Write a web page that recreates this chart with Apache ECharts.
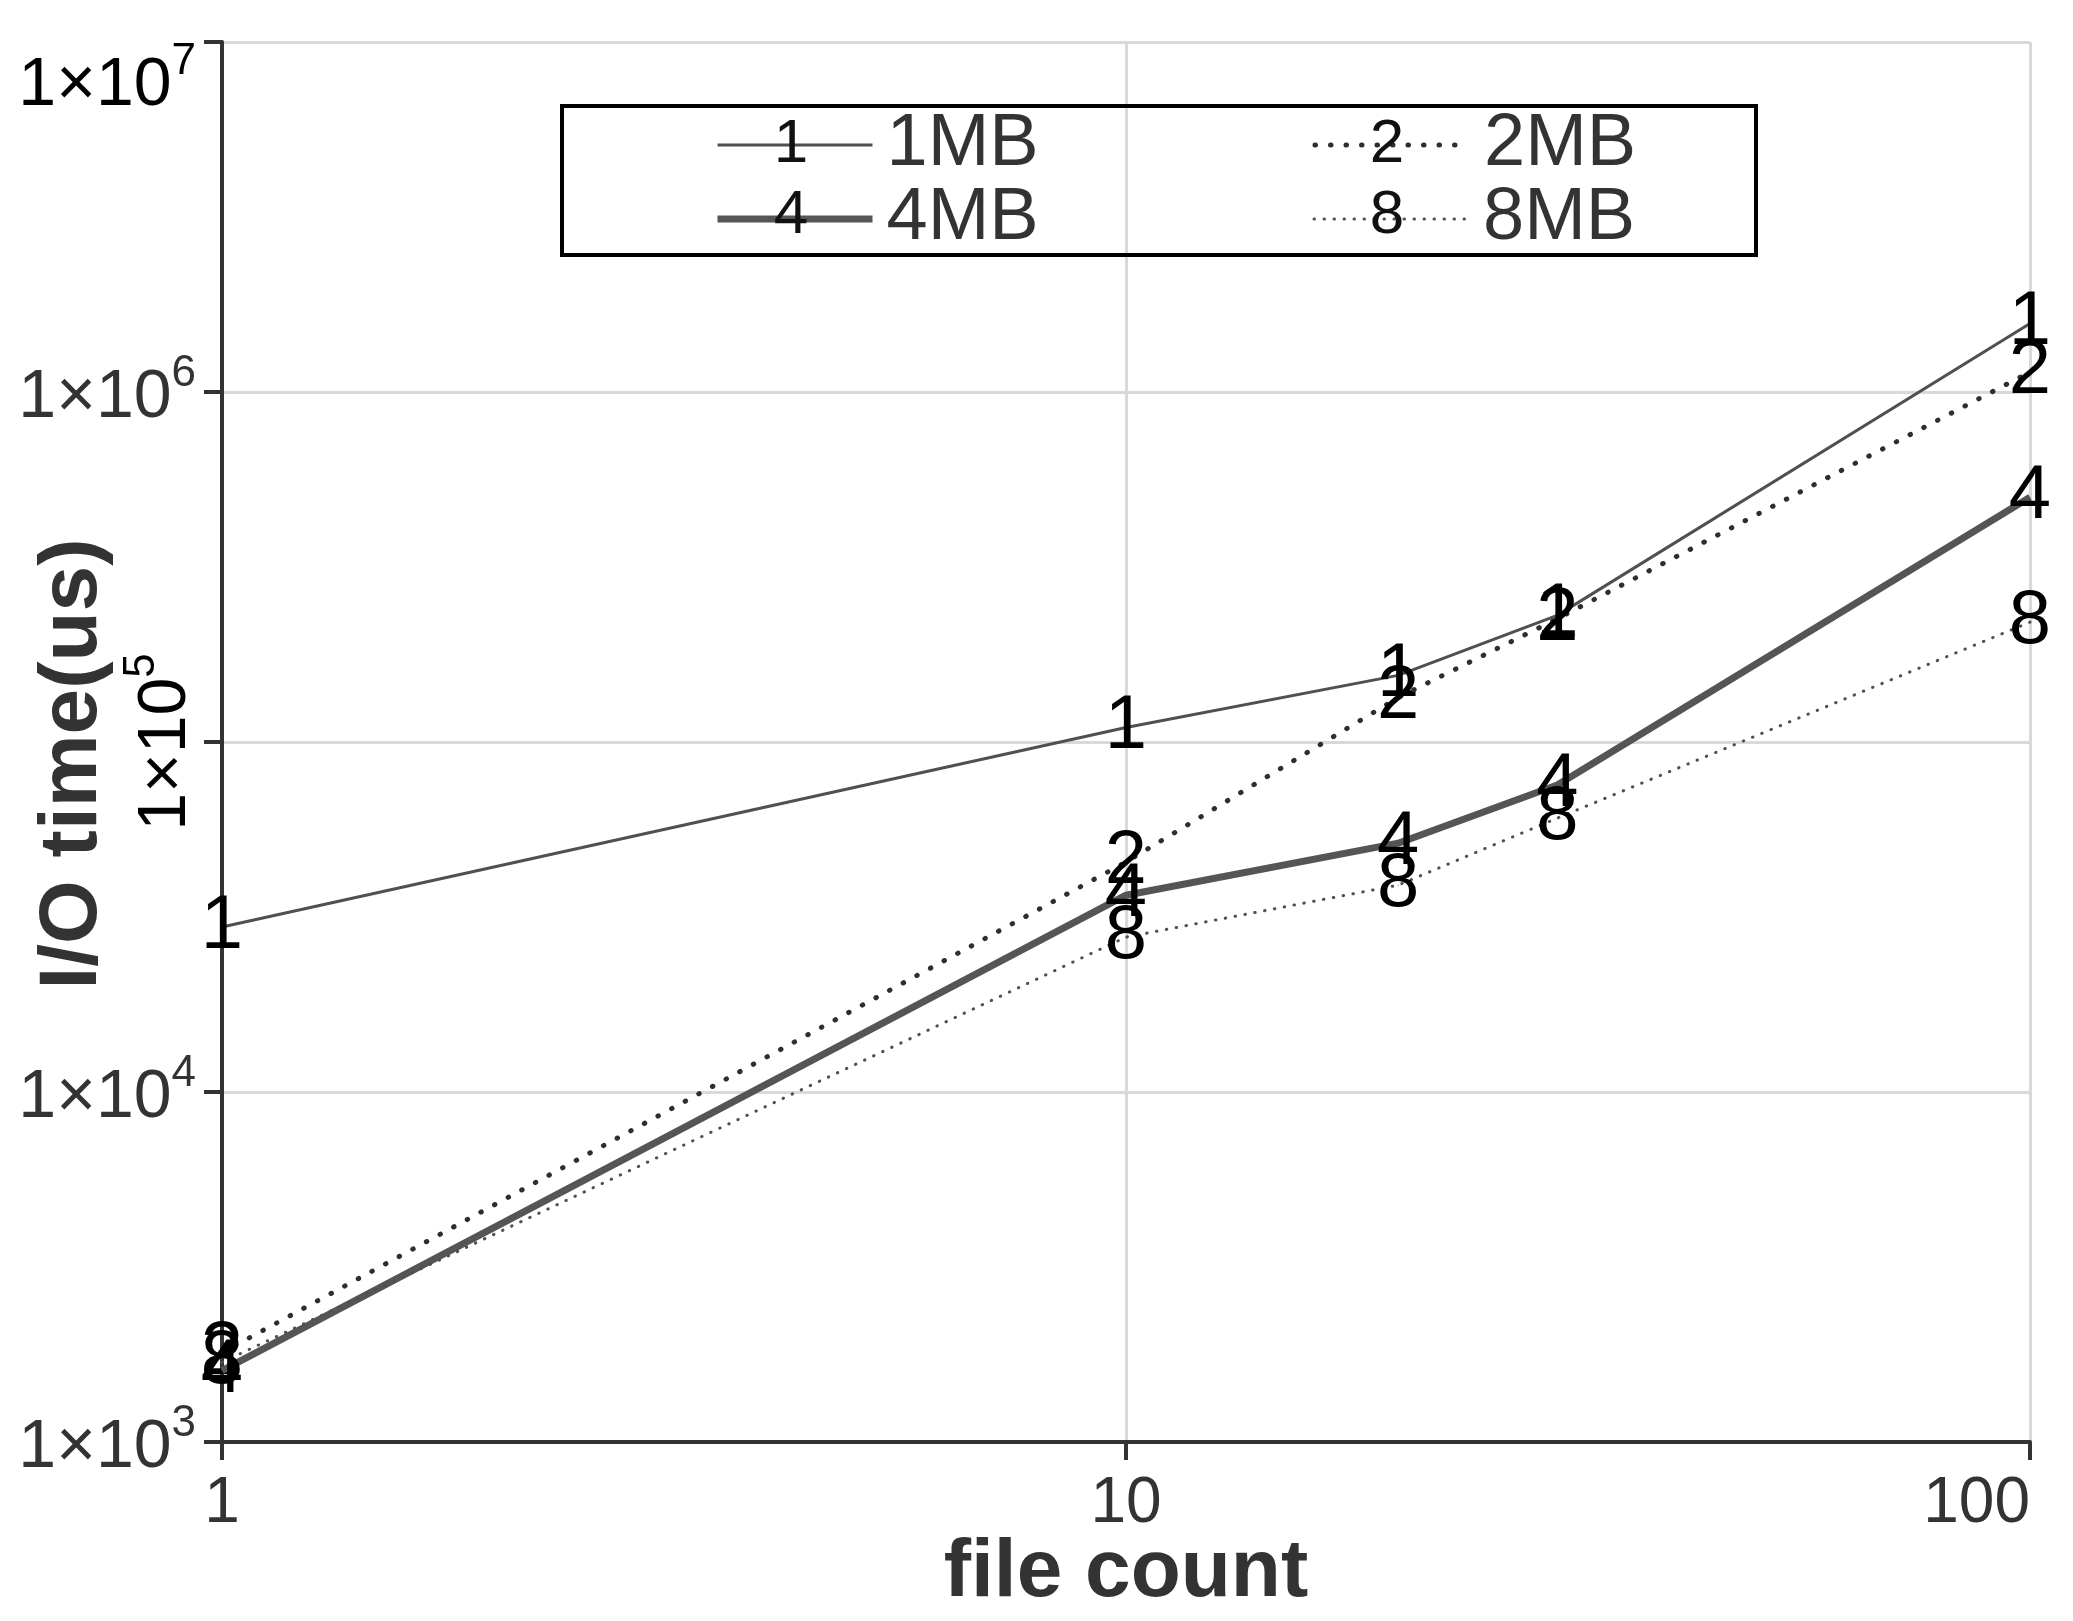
<!DOCTYPE html>
<html>
<head>
<meta charset="utf-8">
<style>
  html, body { margin: 0; padding: 0; background: #fff; }
  #chart { width: 2073px; height: 1621px; }
</style>
<script src="https://cdn.jsdelivr.net/npm/echarts@6.0.0/dist/echarts.min.js"></script>
</head>
<body>
<div id="chart"></div>
<script>
// data (file count vs I/O time in us)
const fileCounts = [1, 10, 20, 30, 100]
const io1MB = [29600, 110000, 155000, 230000, 1570000]
const io2MB = [1800, 45400, 134000, 225000, 1140000]
const io4MB = [1600, 36500, 51400, 75400, 500000]
const io8MB = [1690, 27700, 39000, 60600, 220000]
const seriesNames = ['1MB', '2MB', '4MB', '8MB']
const markDigits = ['1', '2', '4', '8']
const yExponents = [3, 4, 5, 6, 7]

const FONT = '"Liberation Sans", Arial, sans-serif'
const seriesData = [io1MB, io2MB, io4MB, io8MB]

const lineStyles = [
  { color: '#505050', width: 3, type: 'solid' },
  { color: '#2e2e2e', width: 5, type: [0.5, 15], cap: 'round' },
  { color: '#555555', width: 7, type: 'solid' },
  { color: '#505050', width: 3, type: [0.5, 9.5], cap: 'round' }
]

const supRich = {
  b: { fontSize: 68, fontFamily: FONT, color: '#333', lineHeight: 80, verticalAlign: 'bottom' },
  s: { fontSize: 44, fontFamily: FONT, color: '#333', lineHeight: 80, verticalAlign: 'top' }
}
const powLabel = e => '{b|1×10}{s|' + e + '}'

const chart = echarts.init(document.getElementById('chart'))

const option = {
  animation: false,
  backgroundColor: '#fff',
  grid: { left: 222, right: 43, top: 42, bottom: 179, outerBoundsMode: 'none', containLabel: false },
  legend: {
    data: seriesNames.map((n, i) => ({
      name: n,
      lineStyle: lineStyles[i],
      itemStyle: { opacity: 0, color: 'transparent', borderWidth: 0 }
    })),
    left: 714,
    top: 108,
    orient: 'horizontal',
    width: 950,
    itemWidth: 155,
    itemHeight: 30,
    itemGap: 0,
    padding: 0,
    selectedMode: false,
    formatter: name => (name === '1MB' || name === '4MB') ? '{a|' + name + '}' : '{b|' + name + '}',
    textStyle: {
      fontSize: 74, fontFamily: FONT, color: '#333', lineHeight: 71,
      rich: {
        a: { width: 426, padding: [0, 0, 0, 9], fontSize: 74, fontFamily: FONT, color: '#333', lineHeight: 71 },
        b: { padding: [0, 0, 0, 9], fontSize: 74, fontFamily: FONT, color: '#333', lineHeight: 71 }
      }
    }
  },
  xAxis: {
    type: 'log',
    logBase: 10,
    min: 1,
    max: 100,
    name: 'file count',
    nameLocation: 'middle',
    nameGap: 90,
    nameMoveOverlap: false,
    nameTextStyle: { fontSize: 82, fontWeight: 'bold', fontFamily: FONT, color: '#333' },
    axisLine: { show: true, lineStyle: { color: '#333', width: 4 } },
    axisTick: { show: true, length: 18, lineStyle: { color: '#333', width: 4 } },
    minorTick: { show: false },
    axisLabel: {
      margin: 30, fontSize: 64, fontFamily: FONT, color: '#333',
      alignMaxLabel: 'right',
      formatter: v => String(Math.round(v))
    },
    splitLine: { show: true, lineStyle: { color: '#d9d9d9', width: 3 } }
  },
  yAxis: {
    type: 'log',
    logBase: 10,
    min: 1e3,
    max: 1e7,
    name: 'I/O time(us)',
    nameLocation: 'middle',
    nameGap: 108,
    nameMoveOverlap: false,
    nameTextStyle: { fontSize: 82, fontWeight: 'bold', fontFamily: FONT, color: '#333', padding: [0, 44, 0, 0] },
    axisLine: { show: true, lineStyle: { color: '#333', width: 4 } },
    axisTick: { show: true, length: 18, lineStyle: { color: '#333', width: 4 } },
    axisLabel: {
      margin: 26,
      rich: supRich,
      formatter: v => {
        const e = Math.round(Math.log10(v))
        if (e === 5 || e === 7) return ''
        return powLabel(e)
      }
    },
    splitLine: { show: true, lineStyle: { color: '#d9d9d9', width: 3 } }
  },
  series: seriesNames.map((name, i) => ({
    name: name,
    type: 'line',
    data: fileCounts.map((x, j) => [x, seriesData[i][j]]),
    symbol: 'circle',
    symbolSize: 1,
    itemStyle: { color: lineStyles[i].color },
    lineStyle: lineStyles[i],
    label: {
      show: true,
      position: 'inside',
      formatter: markDigits[i],
      fontSize: 76,
      fontFamily: FONT,
      color: '#000'
    },
    z: 3 + i
  }))
}

chart.setOption(option)

// labels that sit off the normal axis-label spot, plus the legend frame & digits
const p7 = chart.convertToPixel({ gridIndex: 0 }, [1, 1e7])
const p5 = chart.convertToPixel({ gridIndex: 0 }, [1, 1e5])

const legendDigits = [
  { d: '1', x: 791, y: 145 },
  { d: '2', x: 1387, y: 145 },
  { d: '4', x: 791, y: 216 },
  { d: '8', x: 1387, y: 216 }
]

chart.setOption({
  graphic: [
    {
      type: 'rect',
      shape: { x: 562, y: 106, width: 1194, height: 149 },
      style: { fill: 'none', stroke: '#000', lineWidth: 4 },
      z: 10
    },
    ...legendDigits.map(g => ({
      type: 'text',
      x: g.x, y: g.y,
      style: { text: g.d, fontSize: 62, fontFamily: FONT, fill: '#111', align: 'center', verticalAlign: 'middle' },
      z: 20
    })),
    {
      type: 'text',
      x: p7[0] - 26, y: p7[1] + 38,
      style: { text: powLabel(7), rich: supRich, align: 'right', verticalAlign: 'middle' },
      z: 10
    },
    {
      type: 'text',
      x: p5[0] - 62, y: p5[1],
      rotation: Math.PI / 2,
      style: { text: powLabel(5), rich: supRich, align: 'center', verticalAlign: 'middle' },
      z: 10
    }
  ]
})

window.addEventListener('resize', () => chart.resize())
</script>
</body>
</html>
